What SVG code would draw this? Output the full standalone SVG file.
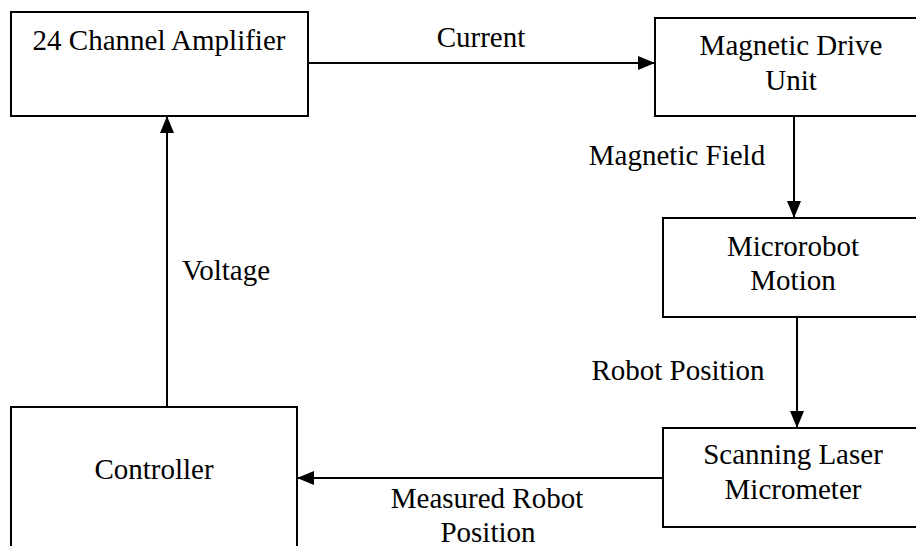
<svg xmlns="http://www.w3.org/2000/svg" width="916" height="546" viewBox="0 0 916 546">
<style>
  .box { fill: #fff; stroke: #000; stroke-width: 2; }
  .t { font-family: "Liberation Serif", "Times New Roman", serif; font-size: 29px; fill: #000; }
  .c { text-anchor: middle; }
  .ln { stroke: #000; stroke-width: 2; fill: none; marker-end: url(#arr); }
</style>
<defs>
  <marker id="arr" markerUnits="userSpaceOnUse" markerWidth="17" markerHeight="14" refX="17" refY="7" orient="auto">
    <path d="M0,0 L17,7 L0,14 z" fill="#000"/>
  </marker>
</defs>
<rect width="916" height="546" fill="#fff"/>
<g id="connectors">
  <line class="ln" x1="308" y1="63" x2="655" y2="63"/>
  <line class="ln" x1="794" y1="116" x2="794" y2="218"/>
  <line class="ln" x1="797" y1="317" x2="797" y2="428"/>
  <line class="ln" x1="663" y1="478" x2="297" y2="478"/>
  <line class="ln" x1="167" y1="407" x2="167" y2="116"/>
  <text class="t c" x="481" y="47">Current</text>
  <text class="t c" x="677" y="165">Magnetic Field</text>
  <text class="t c" x="678" y="380">Robot Position</text>
  <text class="t c" x="487" y="508">Measured Robot</text>
  <text class="t c" x="488" y="542">Position</text>
  <text class="t" x="182" y="280">Voltage</text>
</g>
<g id="amplifier">
  <rect class="box" x="11" y="12" width="297" height="104"/>
  <text class="t c" x="159" y="50">24 Channel Amplifier</text>
</g>
<g id="drive">
  <rect class="box" x="655" y="18" width="280" height="98"/>
  <text class="t c" x="791" y="55">Magnetic Drive</text>
  <text class="t c" x="791" y="90">Unit</text>
</g>
<g id="motion">
  <rect class="box" x="663" y="218" width="280" height="99"/>
  <text class="t c" x="793" y="256">Microrobot</text>
  <text class="t c" x="793" y="290">Motion</text>
</g>
<g id="micrometer">
  <rect class="box" x="663" y="428" width="280" height="99"/>
  <text class="t c" x="793" y="464">Scanning Laser</text>
  <text class="t c" x="793" y="499">Micrometer</text>
</g>
<g id="controller">
  <rect class="box" x="11" y="407" width="286" height="170"/>
  <text class="t c" x="154" y="479">Controller</text>
</g>
</svg>
